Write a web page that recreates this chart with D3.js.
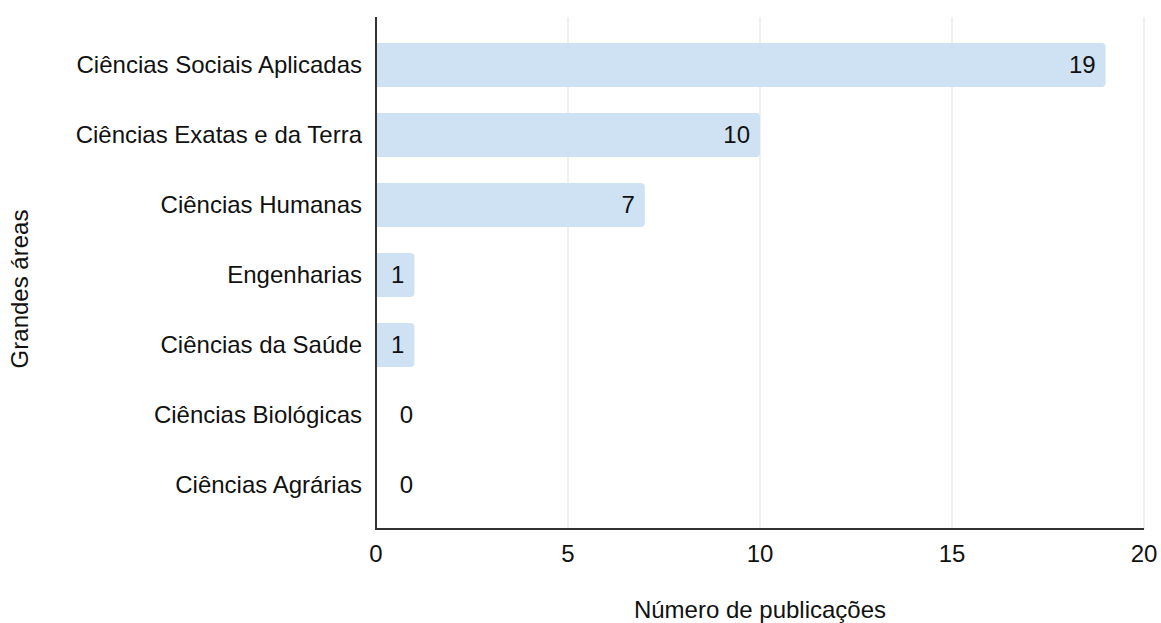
<!DOCTYPE html>
<html>
<head>
<meta charset="utf-8">
<script src="https://cdn.jsdelivr.net/npm/d3@7"></script>
<style>
  body { margin: 0; background: #fff; }
  text { font-family: "Liberation Sans", Arial, sans-serif; fill: #111; }
</style>
</head>
<body>
<svg class="graphic" width="1161" height="623"></svg>
<script>
var categories = ["Ciências Sociais Aplicadas", "Ciências Exatas e da Terra", "Ciências Humanas",
                  "Engenharias", "Ciências da Saúde", "Ciências Biológicas", "Ciências Agrárias"];
var values = [19, 10, 7, 1, 1, 0, 0];
var xTicks = [0, 5, 10, 15, 20];

var margin = {top: 17, left: 376, right: 17, bottom: 94};
var width = 1161 - margin.left - margin.right,
    height = 623 - margin.top - margin.bottom,
    fontSize = 24,
    barColour = "#cfe2f3";

var svg = d3.select(".graphic");
var graphic = svg.append("g")
    .attr("transform", "translate(" + margin.left + "," + margin.top + ")");

var x = d3.scaleLinear().domain([0, 20]).range([0, 768]);
var y = d3.scaleBand().domain(categories).range([13, 503])
    .paddingInner(0.37).paddingOuter(0.185);

// gridlines
graphic.selectAll(".grid")
    .data(xTicks.slice(1))
    .enter()
    .append("line")
    .attr("x1", function(d) { return x(d); })
    .attr("x2", function(d) { return x(d); })
    .attr("y1", 0)
    .attr("y2", height)
    .attr("stroke", "#ebebeb")
    .attr("stroke-width", 1.5);

// bars - rounded only at the right end
graphic.selectAll(".bar")
    .data(values)
    .enter()
    .append("path")
    .attr("fill", barColour)
    .attr("d", function(d, i) {
        var w = x(d), r = Math.min(4, w / 2), top = y(categories[i]), h = y.bandwidth();
        if (w <= 0) return "";
        return "M0," + top + "H" + (w - r) + "Q" + w + "," + top + " " + w + "," + (top + r) +
               "V" + (top + h - r) + "Q" + w + "," + (top + h) + " " + (w - r) + "," + (top + h) +
               "H0Z";
    });

// value labels
graphic.selectAll(".value")
    .data(values)
    .enter()
    .append("text")
    .attr("x", function(d) { return d > 0 ? x(d) - 10 : 37; })
    .attr("y", function(d, i) { return y(categories[i]) + y.bandwidth() / 2; })
    .attr("dy", "0.35em")
    .attr("text-anchor", "end")
    .style("font-size", fontSize + "px")
    .text(function(d) { return d; });

// axes lines
graphic.append("line")
    .attr("x1", 0).attr("x2", 0)
    .attr("y1", 0).attr("y2", height)
    .attr("stroke", "#333").attr("stroke-width", 2);
graphic.append("line")
    .attr("x1", -1).attr("x2", x(20))
    .attr("y1", height).attr("y2", height)
    .attr("stroke", "#333").attr("stroke-width", 2);

// category labels
graphic.selectAll(".cat")
    .data(categories)
    .enter()
    .append("text")
    .attr("x", -14)
    .attr("y", function(d) { return y(d) + y.bandwidth() / 2; })
    .attr("dy", "0.35em")
    .attr("text-anchor", "end")
    .style("font-size", fontSize + "px")
    .text(function(d) { return d; });

// x tick labels
graphic.selectAll(".tick")
    .data(xTicks)
    .enter()
    .append("text")
    .attr("x", function(d) { return x(d); })
    .attr("y", height + 25)
    .attr("dy", "0.35em")
    .attr("text-anchor", "middle")
    .style("font-size", fontSize + "px")
    .text(function(d) { return d; });

// axis titles
svg.append("text")
    .attr("x", 760)
    .attr("y", 610)
    .attr("dy", "0.35em")
    .attr("text-anchor", "middle")
    .style("font-size", fontSize + "px")
    .text("Número de publicações");

svg.append("text")
    .attr("transform", "translate(20,289) rotate(-90)")
    .attr("dy", "0.35em")
    .attr("text-anchor", "middle")
    .style("font-size", fontSize + "px")
    .text("Grandes áreas");
</script>
</body>
</html>
